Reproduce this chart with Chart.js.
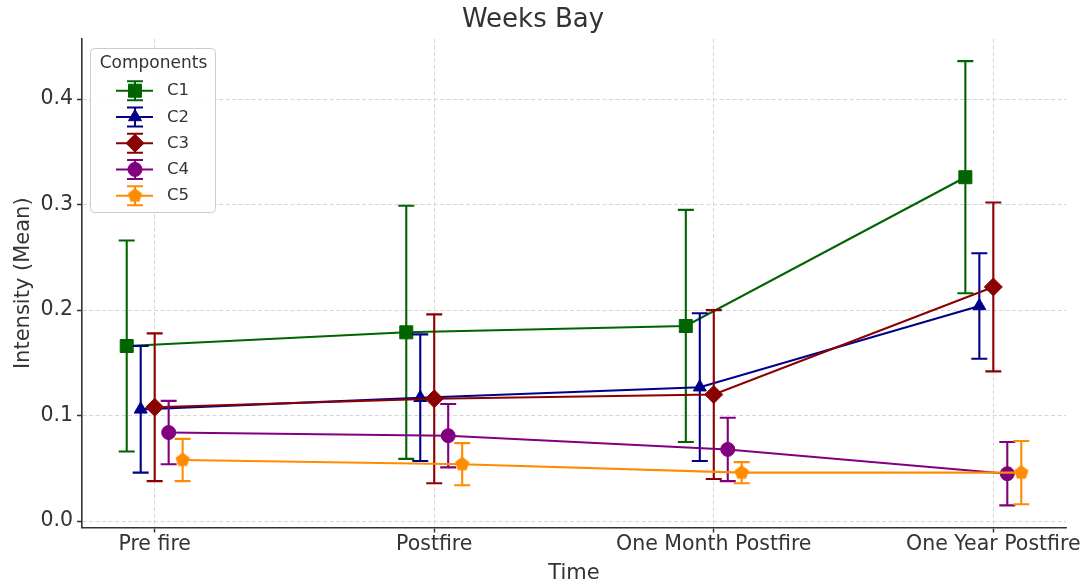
<!DOCTYPE html>
<html><head><meta charset="utf-8">
<script src="https://cdn.jsdelivr.net/npm/chart.js@4.4.1/dist/chart.umd.min.js"></script>
<style>html,body{margin:0;padding:0;background:#fff}#wrap{width:1089px;height:588px}</style>
</head><body><div id="wrap"><canvas id="c" width="1089" height="588"></canvas></div>
<script>
// ---- data ----
const categories = ['Pre fire', 'Postfire', 'One Month Postfire', 'One Year Postfire'];
const seriesNames = ['C1', 'C2', 'C3', 'C4', 'C5'];
const c1Mean = [0.166, 0.179, 0.185, 0.326];
const c1Err  = [0.100, 0.120, 0.110, 0.110];
const c2Mean = [0.106, 0.117, 0.127, 0.204];
const c2Err  = [0.060, 0.060, 0.070, 0.050];
const c3Mean = [0.108, 0.116, 0.120, 0.222];
const c3Err  = [0.070, 0.080, 0.080, 0.080];
const c4Mean = [0.084, 0.081, 0.068, 0.045];
const c4Err  = [0.030, 0.030, 0.030, 0.030];
const c5Mean = [0.058, 0.054, 0.046, 0.046];
const c5Err  = [0.020, 0.020, 0.010, 0.030];
const yTicks = [0.0, 0.1, 0.2, 0.3, 0.4];

// ---- style ----
const FONT = 'DejaVu Sans';
const TEXT = '#333333';
const colors = ['#006400', '#00008B', '#8B0000', '#800080', '#FF8C00'];
const DODGE = 0.05;
const CAP = 8;

function pentagon(r, color) {
  const c = document.createElement('canvas');
  const s = Math.ceil(r * 2 + 4);
  c.width = s; c.height = s;
  const g = c.getContext('2d');
  g.fillStyle = color;
  g.beginPath();
  for (let k = 0; k < 5; k++) {
    const a = -Math.PI / 2 + k * 2 * Math.PI / 5;
    const px = s / 2 + r * Math.cos(a), py = s / 2 + r * Math.sin(a);
    k === 0 ? g.moveTo(px, py) : g.lineTo(px, py);
  }
  g.closePath(); g.fill();
  return c;
}
const markers = [
  {style: 'rect', r: 9.2},
  {style: 'triangle', r: 7.5},
  {style: 'rectRot', r: 9},
  {style: 'circle', r: 7},
  {style: pentagon(7.5, colors[4]), r: 7.5}
];

const means = [c1Mean, c2Mean, c3Mean, c4Mean, c5Mean];
const errs = [c1Err, c2Err, c3Err, c4Err, c5Err];

const datasets = seriesNames.map((name, s) => ({
  label: name,
  data: categories.map((c, i) => ({x: i + (s - 2) * DODGE, y: means[s][i]})),
  errors: errs[s],
  borderColor: colors[s],
  backgroundColor: colors[s],
  borderWidth: 2.1,
  tension: 0,
  pointStyle: markers[s].style,
  pointRadius: markers[s].r,
  pointHoverRadius: markers[s].r,
  pointBorderWidth: 1,
  pointBorderColor: colors[s],
  pointBackgroundColor: colors[s],
  order: seriesNames.length - 1 - s
}));

const errorBarPlugin = {
  id: 'errorBars',
  beforeDatasetDraw(chart, args) {
    const ds = chart.data.datasets[args.index];
    const {ctx} = chart;
    const xs = chart.scales.x, ys = chart.scales.y;
    ctx.save();
    ctx.strokeStyle = ds.borderColor;
    ctx.lineWidth = 2.1;
    ds.data.forEach((p, i) => {
      const e = ds.errors[i];
      const px = xs.getPixelForValue(p.x);
      const top = ys.getPixelForValue(p.y + e);
      const bot = ys.getPixelForValue(p.y - e);
      ctx.beginPath();
      ctx.moveTo(px, top); ctx.lineTo(px, bot);
      ctx.moveTo(px - CAP, top); ctx.lineTo(px + CAP, top);
      ctx.moveTo(px - CAP, bot); ctx.lineTo(px + CAP, bot);
      ctx.stroke();
    });
    ctx.restore();
  }
};

const legendPlugin = {
  id: 'boxLegend',
  afterDraw(chart) {
    const {ctx} = chart;
    const bx = 90.5, by = 48.5, bw = 125, bh = 164;
    ctx.save();
    ctx.beginPath();
    if (ctx.roundRect) ctx.roundRect(bx, by, bw, bh, 4); else ctx.rect(bx, by, bw, bh);
    ctx.fillStyle = 'rgba(255,255,255,0.85)';
    ctx.fill();
    ctx.strokeStyle = '#cccccc';
    ctx.lineWidth = 1;
    ctx.stroke();
    ctx.fillStyle = TEXT;
    ctx.font = '17px "' + FONT + '"';
    ctx.textAlign = 'center';
    ctx.textBaseline = 'middle';
    ctx.fillText('Components', 153.5, 64);
    chart.data.datasets.forEach((ds, s) => {
      const y = 90.7 + s * 26.25;
      const mx = 135;
      ctx.strokeStyle = ds.borderColor;
      ctx.fillStyle = ds.borderColor;
      ctx.lineWidth = 2;
      ctx.beginPath();
      ctx.moveTo(116, y); ctx.lineTo(153, y);
      ctx.moveTo(mx, y - 9.5); ctx.lineTo(mx, y + 9.5);
      ctx.moveTo(mx - CAP, y - 9.5); ctx.lineTo(mx + CAP, y - 9.5);
      ctx.moveTo(mx - CAP, y + 9.5); ctx.lineTo(mx + CAP, y + 9.5);
      ctx.stroke();
      ctx.lineWidth = 1;
      if (Chart.helpers && Chart.helpers.drawPoint) {
        Chart.helpers.drawPoint(ctx, {pointStyle: ds.pointStyle, radius: ds.pointRadius, rotation: 0, borderWidth: 1}, mx, y);
      } else {
        ctx.beginPath(); ctx.arc(mx, y, 7, 0, Math.PI * 2); ctx.fill();
      }
      ctx.fillStyle = TEXT;
      ctx.font = '16.5px "' + FONT + '"';
      ctx.textAlign = 'left';
      ctx.fillText(ds.label, 167, y + 0.5);
    });
    ctx.restore();
  }
};

const gridCommon = {
  color: '#d0d0d0',
  lineWidth: 0.9,
  drawTicks: true,
  tickLength: 5,
  tickColor: '#333333',
  tickWidth: 1.5
};

new Chart(document.getElementById('c'), {
  type: 'line',
  data: {datasets},
  plugins: [errorBarPlugin, legendPlugin],
  options: {
    responsive: false,
    animation: false,
    layout: {padding: {left: 0, right: 23, top: 0, bottom: 0}},
    plugins: {
      legend: {display: false},
      tooltip: {enabled: false},
      title: {
        display: true, text: 'Weeks Bay', color: TEXT,
        font: {family: FONT, size: 26, weight: 'normal'},
        padding: {top: 5, bottom: 2.8}
      }
    },
    scales: {
      x: {
        type: 'linear', min: -0.26, max: 3.26,
        afterBuildTicks: (sc) => { sc.ticks = categories.map((c, i) => ({value: i})); },
        afterFit: (sc) => { sc.height = 60.5; },
        ticks: {
          color: TEXT, padding: 2, maxRotation: 0, autoSkip: false,
          font: {family: FONT, size: 20.5, lineHeight: 1.0},
          callback: (v) => categories[Math.round(v)]
        },
        grid: gridCommon,
        border: {display: true, color: '#333333', width: 1.6, dash: [4, 2.5]},
        title: {display: true, text: 'Time', color: TEXT, font: {family: FONT, size: 21}, padding: {top: 0, bottom: 1.6}}
      },
      y: {
        type: 'linear', min: -0.006, max: 0.457,
        afterBuildTicks: (sc) => { sc.ticks = yTicks.map(v => ({value: v})); },
        afterFit: (sc) => { sc.width = 82; },
        ticks: {
          color: TEXT, padding: 4,
          font: {family: FONT, size: 20.5},
          callback: (v) => Number(v).toFixed(1)
        },
        grid: gridCommon,
        border: {display: true, color: '#333333', width: 1.6, dash: [4, 2.5]},
        title: {display: true, text: 'Intensity (Mean)', color: TEXT, font: {family: FONT, size: 21}, padding: {top: 11, bottom: 0}}
      }
    }
  }
});
</script>
</body></html>
